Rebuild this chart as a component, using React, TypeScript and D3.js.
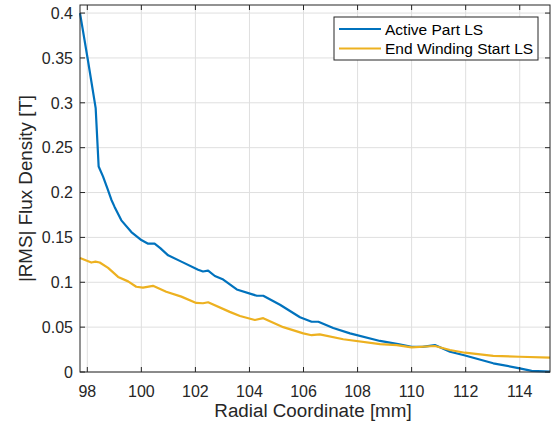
import React from "react";
import * as d3 from "d3";

// radial coordinate [mm] and |RMS| flux density [T]
const activeX = [97.73, 98.02, 98.31, 98.42, 98.58, 98.74, 98.89, 99.01, 99.26, 99.63, 100.0, 100.25, 100.49, 100.7, 100.99, 101.48, 102.1, 102.28, 102.47, 102.72, 103.03, 103.53, 104.27, 104.51, 105.13, 105.87, 106.3, 106.55, 107.1, 107.72, 108.83, 109.5, 110.0, 110.4, 110.86, 111.42, 111.91, 113.02, 114.0, 114.44, 115.12];
const activeY = [0.4, 0.348, 0.294, 0.229, 0.218, 0.205, 0.192, 0.184, 0.169, 0.156, 0.147, 0.143, 0.143, 0.138, 0.13, 0.123, 0.114, 0.112, 0.113, 0.107, 0.103, 0.092, 0.085, 0.085, 0.075, 0.061, 0.056, 0.056, 0.049, 0.043, 0.0346, 0.031, 0.028, 0.028, 0.03, 0.0226, 0.019, 0.0097, 0.0041, 0.0012, 0.0005];

const endX = [97.73, 98.15, 98.3, 98.46, 98.77, 99.14, 99.51, 99.81, 100.06, 100.43, 100.92, 101.48, 102.03, 102.28, 102.47, 103.27, 103.65, 104.2, 104.51, 105.25, 105.99, 106.3, 106.6, 107.47, 108.83, 109.45, 110.0, 110.86, 111.42, 111.97, 113.02, 114.0, 115.12];
const endY = [0.127, 0.122, 0.123, 0.122, 0.116, 0.106, 0.101, 0.095, 0.094, 0.096, 0.0895, 0.084, 0.077, 0.0766, 0.0777, 0.067, 0.0624, 0.058, 0.06, 0.05, 0.043, 0.041, 0.042, 0.0365, 0.031, 0.03, 0.0275, 0.029, 0.0245, 0.0215, 0.018, 0.017, 0.016];

const seriesNames = ["Active Part LS", "End Winding Start LS"];
const seriesColors = ["#0072BD", "#EDB120"];

const xTicks = [98, 100, 102, 104, 106, 108, 110, 112, 114];
const yTicks = [0, 0.05, 0.1, 0.15, 0.2, 0.25, 0.3, 0.35, 0.4];

const W = 557;
const H = 428;
const left = 80, right = 550, top = 5, bottom = 372;
const axisColor = "#262626";
const font = "'Liberation Sans', Arial, Helvetica, sans-serif";

export default function App() {
  const x = d3.scaleLinear().domain([97.73, 115.12]).range([left, right]);
  const y = d3.scaleLinear().domain([0, 0.409]).range([bottom, top]);

  const line = d3
    .line<[number, number]>()
    .x((d) => x(d[0]))
    .y((d) => y(d[1]));

  const series = [
    activeX.map((v, i) => [v, activeY[i]] as [number, number]),
    endX.map((v, i) => [v, endY[i]] as [number, number]),
  ];

  const tickLen = 5;

  return (
    <svg
      width={W}
      height={H}
      style={{ position: "absolute", left: 0, top: 0, background: "#fff" }}
      fontFamily={font}
    >
      <rect x={0} y={0} width={W} height={H} fill="#fff" />
      {/* grid */}
      {xTicks.map((t) => (
        <line key={"gx" + t} x1={x(t)} x2={x(t)} y1={top} y2={bottom} stroke="#dfdfdf" strokeWidth={1} />
      ))}
      {yTicks.map((t) => (
        <line key={"gy" + t} x1={left} x2={right} y1={y(t)} y2={y(t)} stroke="#dfdfdf" strokeWidth={1} />
      ))}

      {/* data */}
      {series.map((s, i) => (
        <path key={i} d={line(s) || ""} fill="none" stroke={seriesColors[i]} strokeWidth={2.2} strokeLinejoin="round" />
      ))}

      {/* box */}
      <rect x={left} y={top} width={right - left} height={bottom - top} fill="none" stroke={axisColor} strokeWidth={1} />

      {/* ticks */}
      {xTicks.map((t) => (
        <g key={"tx" + t}>
          <line x1={x(t)} x2={x(t)} y1={bottom} y2={bottom - tickLen} stroke={axisColor} />
          <line x1={x(t)} x2={x(t)} y1={top} y2={top + tickLen} stroke={axisColor} />
          <text x={x(t)} y={397} textAnchor="middle" fontSize={16} fill={axisColor}>
            {t}
          </text>
        </g>
      ))}
      {yTicks.map((t) => (
        <g key={"ty" + t}>
          <line x1={left} x2={left + tickLen} y1={y(t)} y2={y(t)} stroke={axisColor} />
          <line x1={right} x2={right - tickLen} y1={y(t)} y2={y(t)} stroke={axisColor} />
          <text x={73} y={y(t)} dy="0.36em" textAnchor="end" fontSize={16} fill={axisColor}>
            {t}
          </text>
        </g>
      ))}

      {/* axis labels */}
      <text x={(left + right) / 2 - 2} y={417} textAnchor="middle" fontSize={18.8} fill={axisColor}>
        Radial Coordinate [mm]
      </text>
      <text
        transform={`translate(32,${(top + bottom) / 2}) rotate(-90)`}
        textAnchor="middle"
        fontSize={18.8}
        fill={axisColor}
      >
        |RMS| Flux Density [T]
      </text>

      {/* legend */}
      <g>
        <rect x={334} y={17} width={204} height={43} fill="#fff" stroke={axisColor} strokeWidth={1} />
        {seriesNames.map((n, i) => (
          <g key={n}>
            <line x1={339} x2={381} y1={29 + i * 19.5} y2={29 + i * 19.5} stroke={seriesColors[i]} strokeWidth={2.2} />
            <text x={385} y={29 + i * 19.5} dy="0.36em" fontSize={15.5} fill="#000">
              {n}
            </text>
          </g>
        ))}
      </g>
    </svg>
  );
}
